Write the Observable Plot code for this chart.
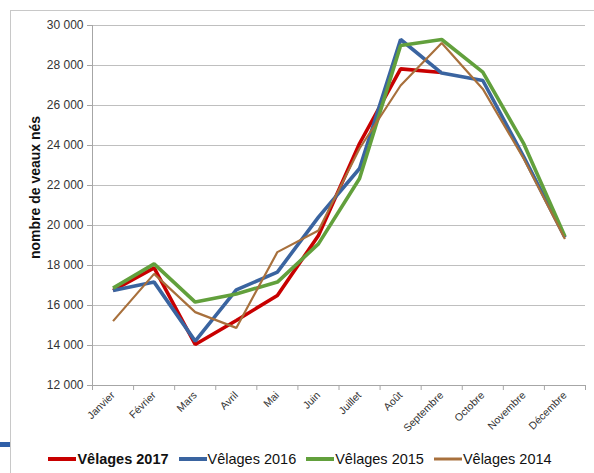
<!DOCTYPE html>
<html>
<head>
<meta charset="utf-8">
<script src="https://cdn.jsdelivr.net/npm/d3@7"></script>
<script src="https://cdn.jsdelivr.net/npm/@observablehq/plot@0.6"></script>
<style>
  html, body { margin: 0; padding: 0; background: #fff; }
  #wrap { position: relative; width: 594px; height: 473px; overflow: hidden; font-family: "Liberation Sans", Arial, sans-serif; }
  #frame { position: absolute; left: 10px; top: 10px; right: -5px; bottom: -5px; border-left: 1px solid #c8c8c8; border-top: 1px solid #c8c8c8; }
  #bluebar { position: absolute; left: 0; top: 442px; width: 10px; height: 5px; background: #2f5fa8; }
  #chart { position: absolute; left: 0; top: 0; }
  #legend { position: absolute; top: 451px; left: 3px; width: 594px; display: flex; justify-content: center; align-items: center; font-size: 14.5px; color: #111; }
  .item { display: flex; align-items: center; margin: 0 5px; }
  .item svg { margin-right: 1px; }
</style>
</head>
<body>
<div id="wrap">
  <div id="frame"></div>
  <div id="bluebar"></div>
  <div id="chart"></div>
  <div id="legend"></div>
</div>
<script>
const months = ["Janvier","Février","Mars","Avril","Mai","Juin","Juillet","Août","Septembre","Octobre","Novembre","Décembre"];
const v2017 = [16750,17880,14050,15250,16500,19500,24100,27830,27650];
const v2016 = [16750,17170,14220,16780,17670,20420,22850,29300,27620,27250,23420,19400];
const v2015 = [16870,18080,16170,16580,17170,19080,22350,29000,29300,27670,24080,19450];
const v2014 = [15220,17580,15670,14880,18670,19750,23850,27000,29130,26830,23330,19330];
const yTicks = [12000,14000,16000,18000,20000,22000,24000,26000,28000,30000];
const seriesNames = ["Vêlages 2017","Vêlages 2016","Vêlages 2015","Vêlages 2014"];
const seriesColors = ["#c80000","#3a64a0","#62a03c","#a8703c"];
const seriesWidths = [3.6,3.6,3.6,2.2];
const yLabel = "nombre de veaux nés";

const seriesValues = [v2017, v2016, v2015, v2014];
const toRows = vals => vals.map((v, i) => ({i, v}));
const boundaries = months.map((m, i) => i - 0.5).concat([months.length - 0.5]);
const fmt = d => d3.format(",")(d).replace(/,/g, " ");

const chart = Plot.plot({
  width: 594,
  height: 440,
  marginLeft: 92,
  marginRight: 9,
  marginTop: 25,
  marginBottom: 55,
  style: {background: "transparent", fontFamily: "Liberation Sans, Arial, sans-serif", color: "#333"},
  x: {type: "linear", domain: [-0.5, months.length - 0.5]},
  y: {domain: [12000, 30000]},
  marks: [
    Plot.ruleY(yTicks.slice(1), {stroke: "#bfbfbf", strokeWidth: 1}),
    Plot.ruleY([12000], {stroke: "#a6a6a6"}),
    Plot.ruleX([-0.5], {stroke: "#a6a6a6"}),
    Plot.ruleX(boundaries, {y1: 12000, y2: 11750, stroke: "#a6a6a6"}),
    Plot.axisY({ticks: yTicks, tickFormat: fmt, tickSize: 5, tickPadding: 4, fontSize: 12, stroke: "#a6a6a6", fill: "#333", label: null}),
    Plot.axisX({ticks: d3.range(months.length), tickFormat: i => months[i], tickRotate: -45, tickSize: 0, tickPadding: 8, fontSize: 10.5, fill: "#333", label: null}),
    Plot.text([yLabel], {frameAnchor: "left", dx: -57, dy: -18, rotate: -90, fontSize: 14, fontWeight: "bold", fill: "#111", textAnchor: "middle"}),
    ...seriesValues.map((vals, k) => Plot.line(toRows(vals), {x: "i", y: "v", stroke: seriesColors[k], strokeWidth: seriesWidths[k], strokeLinejoin: "miter", strokeLinecap: "butt"}))
  ]
});
document.getElementById("chart").appendChild(chart);

const legend = document.getElementById("legend");
seriesNames.forEach((name, k) => {
  const item = document.createElement("div");
  item.className = "item";
  item.innerHTML = `<svg width="28" height="10"><line x1="0" x2="28" y1="5" y2="5" stroke="${seriesColors[k]}" stroke-width="${k === 3 ? 3 : 4}"/></svg><span style="font-weight:${k === 0 ? "bold" : "normal"}">${name}</span>`;
  legend.appendChild(item);
});
</script>
</body>
</html>
